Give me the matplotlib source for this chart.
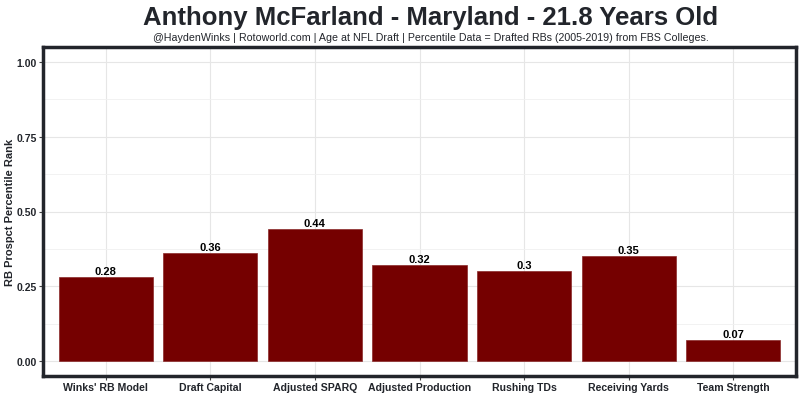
import matplotlib
matplotlib.use("Agg")
import matplotlib.pyplot as plt
from matplotlib.ticker import MultipleLocator

categories = ["Winks' RB Model", "Draft Capital", "Adjusted SPARQ", "Adjusted Production",
              "Rushing TDs", "Receiving Yards", "Team Strength"]
values = [0.28, 0.36, 0.44, 0.32, 0.30, 0.35, 0.07]
value_labels = ["0.28", "0.36", "0.44", "0.32", "0.3", "0.35", "0.07"]
yticks = [0.0, 0.25, 0.5, 0.75, 1.0]
ytick_labels = ["0.00", "0.25", "0.50", "0.75", "1.00"]

title = "Anthony McFarland - Maryland - 21.8 Years Old"
subtitle = "@HaydenWinks | Rotoworld.com | Age at NFL Draft | Percentile Data = Drafted RBs (2005-2019) from FBS Colleges."

plt.rcParams['font.family'] = ['Liberation Sans', 'DejaVu Sans']
dark = "#22252b"

fig = plt.figure(figsize=(8, 4.1), dpi=100)
ax = fig.add_axes([43/800, 1 - 377/410, 753/800, 329/410])

x = list(range(1, len(categories) + 1))
ax.bar(x, values, width=0.9, color="#750000", edgecolor="#8a2a2a", linewidth=0.5, zorder=3)
for xi, v, lab in zip(x, values, value_labels):
    ax.text(xi, v + 0.004, lab, ha="center", va="bottom", fontsize=8, fontweight="bold", color="black", zorder=4)

ax.set_xlim(0.4, 7.6)
ax.set_ylim(-0.05, 1.05)
ax.set_xticks(x)
ax.set_xticklabels(categories, fontsize=7.6, fontweight="bold", color=dark)
ax.set_yticks(yticks)
ax.set_yticklabels(ytick_labels, fontsize=7.5, fontweight="bold", color=dark)
ax.yaxis.set_minor_locator(MultipleLocator(0.125))
ax.grid(True, which="major", color="#e6e6e6", linewidth=0.8, zorder=0)
ax.grid(True, which="minor", axis="y", color="#f0f0f0", linewidth=0.6, zorder=0)
ax.set_axisbelow(True)
ax.tick_params(axis="x", which="major", length=3, color="#444444", width=0.8, pad=1.5)
ax.tick_params(axis="y", which="major", length=3, color="#444444", width=0.8, pad=1.5)
ax.tick_params(axis="y", which="minor", length=0)
for s in ax.spines.values():
    s.set_color(dark)
    s.set_linewidth(2.5)

fig.text(10/800, 1 - 212/410, "RB Prospct Percentile Rank", rotation=90, ha="center", va="center",
         fontsize=8, fontweight="bold", color=dark)

fig.text(431/800, 1 - 18/410, title, ha="center", va="center", fontsize=18.5, fontweight="bold", color=dark)
fig.text(431/800, 1 - 38/410, subtitle, ha="center", va="center", fontsize=7.7, color=dark)

fig.savefig("out.png", dpi=100, facecolor="white")
